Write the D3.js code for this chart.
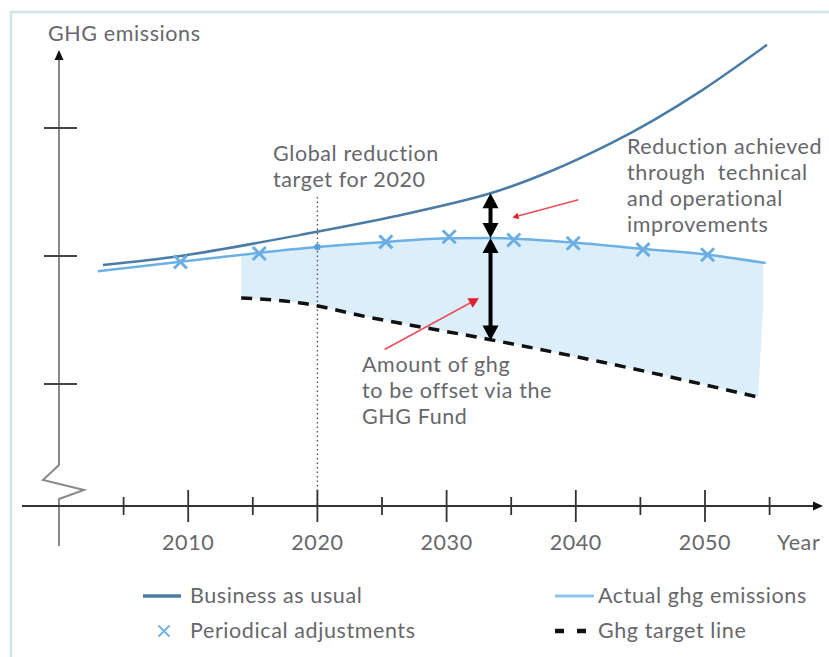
<!DOCTYPE html>
<html><head><meta charset="utf-8">
<script src="https://cdn.jsdelivr.net/npm/d3@7"></script>
<style>
html,body{margin:0;padding:0;background:#fff;}
svg{display:block;}
text{font-family:Lato,"Open Sans",sans-serif;fill:#67676c;font-size:21.5px;letter-spacing:0.6px;}
</style></head><body>
<svg id="chart" width="829" height="657"></svg>
<script>
// ---- data ----
const majorYears = [2010, 2020, 2030, 2040, 2050];
const minorYears = [2005, 2015, 2025, 2035, 2045, 2055];
const yTickValues = [1, 2, 3];

const bauYears  = [2003.4, 2009.4, 2018.7, 2026, 2033.4, 2038, 2042.7, 2046, 2049.7, 2054.8];
const bauValues = [1.93, 2.00, 2.165, 2.31, 2.49, 2.66, 2.88, 3.06, 3.29, 3.65];

const actualYears  = [2003.0, 2009.4, 2015.5, 2020, 2025.3, 2030.2, 2033.4, 2035.2, 2039.8, 2045.2, 2050.2, 2054.7];
const actualValues = [1.88, 1.955, 2.025, 2.07, 2.11, 2.138, 2.14, 2.135, 2.105, 2.055, 2.01, 1.945];

const targetYears  = [2014.1, 2018.7, 2023.9, 2033.1, 2042.0, 2054.1];
const targetValues = [1.672, 1.633, 1.523, 1.352, 1.172, 0.898];

const adjustYears  = [2009.4, 2015.5, 2025.3, 2030.2, 2035.2, 2039.8, 2045.2, 2050.2];
const adjustValues = [1.953, 2.02, 2.11, 2.15, 2.125, 2.10, 2.05, 2.01];

const targetYear = 2020;          // global reduction target
const fillRange = [2014.1, 2054.5];
const arrowYear = 2033.4;
const arrowSpans = [[2.49, 2.14], [2.14, 1.34]];
const redArrows = [ // [fromYear, fromValue, toYear, toValue, headSize]
  [2040.2, 2.44, 2035.1, 2.30, 6],
  [2025.2, 1.27, 2032.5, 1.67, 10]
];

// ---- setup ----
const svg = d3.select("#chart");
const x = d3.scaleLinear().domain([2000, 2050]).range([59, 705]);
const y = d3.scaleLinear().domain([0, 4]).range([512, 0]);
const axisY = 506;

const cBAU = "#4a7ca5", cAct = "#6cb0e4", cFill = "#ddeefb";

// frame
svg.append("path").attr("d", "M11,657 L11,12 L829,12")
  .attr("fill", "none").attr("stroke", "#d3e3ec").attr("stroke-width", 2.5);

// fill area between actual and target
svg.append("clipPath").attr("id", "fillclip").append("rect")
  .attr("x", x(fillRange[0])).attr("y", 0)
  .attr("width", x(fillRange[1]) - x(fillRange[0])).attr("height", 657);
const lineGen = d3.line().x(d => x(d[0])).y(d => y(d[1])).curve(d3.curveMonotoneX);
const actPts = actualYears.map((t, i) => [t, actualValues[i]]);
const tgtPts = targetYears.map((t, i) => [t, targetValues[i]]);
const bauPts = bauYears.map((t, i) => [t, bauValues[i]]);
const topPath = lineGen(actPts);
const botPath = lineGen(tgtPts.slice().reverse());
svg.append("path").attr("d", topPath + "L" + botPath.slice(1) + "Z")
  .attr("fill", cFill).attr("clip-path", "url(#fillclip)");

// vertical dotted line at 2020
svg.append("line").attr("x1", x(targetYear)).attr("x2", x(targetYear))
  .attr("y1", 197).attr("y2", axisY)
  .attr("stroke", "#555").attr("stroke-width", 1.4).attr("stroke-dasharray", "1.5,3");

// target dashed line
svg.append("path").attr("d", lineGen(tgtPts)).attr("fill", "none")
  .attr("stroke", "#111").attr("stroke-width", 3.5).attr("stroke-dasharray", "11,8");

// actual line
svg.append("path").attr("d", topPath).attr("fill", "none")
  .attr("stroke", cAct).attr("stroke-width", 2.5);

// BAU line
svg.append("path").attr("d", d3.line().x(d => x(d[0])).y(d => y(d[1])).curve(d3.curveCatmullRom.alpha(0.5))(bauPts))
  .attr("fill", "none").attr("stroke", cBAU).attr("stroke-width", 2.5);

// periodical adjustment markers
function xMark(g, cx, cy, s, col, w) {
  g.append("path").attr("d", `M${cx-s},${cy-s}L${cx+s},${cy+s}M${cx+s},${cy-s}L${cx-s},${cy+s}`)
    .attr("stroke", col).attr("stroke-width", w).attr("fill", "none");
}
adjustYears.forEach((t, i) => xMark(svg, x(t), y(adjustValues[i]), 6.5, "#6aaee2", 3));
svg.append("circle").attr("cx", x(targetYear)).attr("cy", y(actualValues[3])).attr("r", 3.2).attr("fill", "#5a9fd6");

// double arrows
const ax = x(arrowYear);
arrowSpans.forEach(([a, b]) => {
  const ya = y(a), yb = y(b);
  svg.append("line").attr("x1", ax).attr("x2", ax).attr("y1", ya + 6).attr("y2", yb - 6)
    .attr("stroke", "#000").attr("stroke-width", 4);
  svg.append("path").attr("d", `M${ax},${ya}L${ax-8},${ya+15}L${ax+8},${ya+15}Z`).attr("fill", "#000");
  svg.append("path").attr("d", `M${ax},${yb}L${ax-8},${yb-15}L${ax+8},${yb-15}Z`).attr("fill", "#000");
});

// red arrows
redArrows.forEach(([t0, v0, t1, v1, hs]) => {
  const x0 = x(t0), y0 = y(v0), x1 = x(t1), y1 = y(v1);
  const ang = Math.atan2(y1 - y0, x1 - x0);
  svg.append("line").attr("x1", x0).attr("y1", y0)
    .attr("x2", x1 - Math.cos(ang) * hs * 0.8).attr("y2", y1 - Math.sin(ang) * hs * 0.8)
    .attr("stroke", "#e8505a").attr("stroke-width", 1.6);
  const bx = x1 - Math.cos(ang) * hs, by = y1 - Math.sin(ang) * hs;
  const px = -Math.sin(ang) * hs * 0.55, py = Math.cos(ang) * hs * 0.55;
  svg.append("path").attr("d", `M${x1},${y1}L${bx+px},${by+py}L${bx-px},${by-py}Z`).attr("fill", "#e0202e");
});

// y axis
const yx = x(2000);
svg.append("path").attr("d", `M${yx},58 L${yx},465 L${yx-16},480 L${yx+25},490 L${yx},499 L${yx},546`)
  .attr("fill", "none").attr("stroke", "#8a8a8a").attr("stroke-width", 2);
svg.append("path").attr("d", `M${yx},50 L${yx-4.5},60 L${yx+4.5},60 Z`).attr("fill", "#111");
yTickValues.forEach(v => {
  svg.append("line").attr("x1", yx - 15).attr("x2", yx + 18).attr("y1", y(v)).attr("y2", y(v))
    .attr("stroke", "#444").attr("stroke-width", 2);
});

// x axis
svg.append("line").attr("x1", 22).attr("x2", 816).attr("y1", axisY).attr("y2", axisY)
  .attr("stroke", "#333").attr("stroke-width", 2);
svg.append("path").attr("d", `M823,${axisY} L813,${axisY-4.5} L813,${axisY+4.5} Z`).attr("fill", "#111");
majorYears.forEach(t => {
  svg.append("line").attr("x1", x(t)).attr("x2", x(t)).attr("y1", axisY - 16).attr("y2", axisY + 16)
    .attr("stroke", "#333").attr("stroke-width", 1.8);
  svg.append("text").attr("x", x(t)).attr("y", 550).attr("text-anchor", "middle").text(t);
});
minorYears.forEach(t => {
  svg.append("line").attr("x1", x(t)).attr("x2", x(t)).attr("y1", axisY - 9).attr("y2", axisY + 9)
    .attr("stroke", "#333").attr("stroke-width", 1.8);
});
svg.append("text").attr("x", 777).attr("y", 550).text("Year");

// titles / annotations
svg.append("text").attr("x", 48).attr("y", 41).text("GHG emissions");
function multi(xp, y0, dy, lines) {
  lines.forEach((s, i) => svg.append("text").attr("x", xp).attr("y", y0 + i * dy)
    .attr("xml:space", "preserve").style("white-space", "pre").text(s));
}
multi(273, 161, 26, ["Global reduction", "target for 2020"]);
multi(627, 154, 26, ["Reduction achieved", "through  technical", "and operational", "improvements"]);
multi(362, 372, 26, ["Amount of ghg", "to be offset via the", "GHG Fund"]);

// legend
svg.append("line").attr("x1", 143).attr("x2", 181).attr("y1", 596).attr("y2", 596)
  .attr("stroke", cBAU).attr("stroke-width", 3.5);
svg.append("text").attr("x", 190).attr("y", 603).text("Business as usual");
xMark(svg, 164, 631, 5.5, "#7ab8e6", 2.2);
svg.append("text").attr("x", 190).attr("y", 638).text("Periodical adjustments");
svg.append("line").attr("x1", 555).attr("x2", 594).attr("y1", 596).attr("y2", 596)
  .attr("stroke", "#8fc5ec").attr("stroke-width", 3);
svg.append("text").attr("x", 598).attr("y", 603).text("Actual ghg emissions");
svg.append("line").attr("x1", 555).attr("x2", 586).attr("y1", 631).attr("y2", 631)
  .attr("stroke", "#111").attr("stroke-width", 4.5).attr("stroke-dasharray", "9,13");
svg.append("text").attr("x", 598).attr("y", 638).text("Ghg target line");
</script>
</body></html>
